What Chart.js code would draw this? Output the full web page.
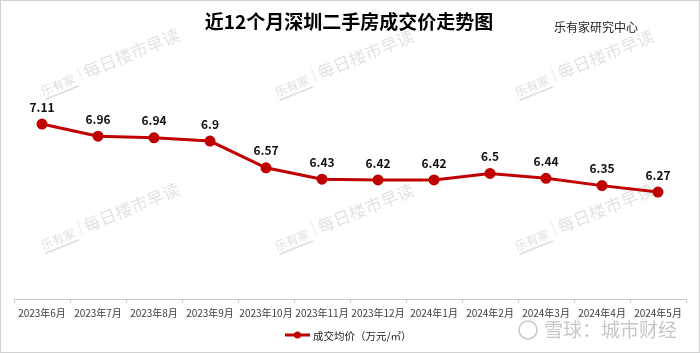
<!DOCTYPE html>
<html><head><meta charset="utf-8">
<script src="https://cdn.jsdelivr.net/npm/chart.js@4"></script>
<style>
html,body{margin:0;padding:0;background:#fff;}
#wrap{width:700px;height:353px;position:relative;}
canvas{display:block;}
</style></head>
<body><div id="wrap"><canvas id="c" width="700" height="353"></canvas></div>
<script>
const categories = ["2023年6月","2023年7月","2023年8月","2023年9月","2023年10月","2023年11月","2023年12月","2024年1月","2024年2月","2024年3月","2024年4月","2024年5月"];
const avgPrice = [7.11, 6.96, 6.94, 6.9, 6.57, 6.43, 6.42, 6.42, 6.5, 6.44, 6.35, 6.27];
const seriesName = "成交均价（万元/㎡）";
const titleText = "近12个月深圳二手房成交价走势图";
const sourceText = "乐有家研究中心";
const lineColor = "#C00000";
const FONT = "'Microsoft YaHei','Noto Sans CJK SC','DejaVu Sans',sans-serif";

const decor = {
  id: 'decor',
  beforeDraw(chart) {
    const ctx = chart.ctx;
    ctx.save();
    ctx.fillStyle = '#fff';
    ctx.fillRect(0,0,chart.width,chart.height);
    // watermarks
    const spots = [[43,96],[277,97],[517,97],[43,250],[277,251],[517,251]];
    for (const [x,y] of spots) {
      ctx.save();
      ctx.translate(x,y);
      ctx.rotate(-22*Math.PI/180);
      ctx.fillStyle = '#e0e0e0';
      ctx.font = "12px " + FONT;
      ctx.textBaseline = 'alphabetic';
      ctx.fillText("乐有家", 0, 0);
      ctx.fillRect(1, 3, 36, 2);
      ctx.fillStyle = '#e8e8e8';
      ctx.fillRect(42, -14, 1, 14);
      ctx.fillStyle = '#e3e3e3';
      ctx.font = "17px " + FONT;
      ctx.fillText("每日楼市早读", 47, 0);
      ctx.restore();
    }
    ctx.restore();
  },
  afterDraw(chart) {
    const ctx = chart.ctx;
    ctx.save();
    // border
    ctx.strokeStyle = '#d0d0d0';
    ctx.lineWidth = 1;
    ctx.strokeRect(0.5,0.5,chart.width-1,chart.height-1);
    // title
    ctx.fillStyle = '#000';
    ctx.textAlign = 'center';
    ctx.textBaseline = 'middle';
    ctx.font = "bold 19px " + FONT;
    ctx.fillText(titleText, 349, 22);
    ctx.font = "12px " + FONT;
    ctx.fillStyle = '#222';
    ctx.fillText(sourceText, 596, 27);
    // data labels
    const meta = chart.getDatasetMeta(0);
    ctx.font = "bold 12px " + FONT;
    ctx.fillStyle = '#111';
    meta.data.forEach((pt,i) => {
      ctx.fillText(String(avgPrice[i]), pt.x, pt.y - 17);
    });
    // legend
    const lx = 285, ly = 335;
    ctx.strokeStyle = lineColor; ctx.lineWidth = 3;
    ctx.beginPath(); ctx.moveTo(lx, ly); ctx.lineTo(lx+25, ly); ctx.stroke();
    ctx.fillStyle = lineColor;
    ctx.beginPath(); ctx.arc(lx+12.5, ly, 3.5, 0, Math.PI*2); ctx.fill();
    ctx.fillStyle = '#222';
    ctx.textAlign = 'left';
    ctx.font = "10.5px " + FONT;
    ctx.fillText(seriesName, lx+28, ly+1);
    // xueqiu watermark
    ctx.strokeStyle = 'rgba(160,160,160,0.6)';
    ctx.lineWidth = 1.5;
    ctx.beginPath(); ctx.arc(528, 330, 9, 0, Math.PI*2); ctx.stroke();
    ctx.fillStyle = 'rgba(160,160,160,0.6)';
    ctx.font = "19px " + FONT;
    ctx.fillText("雪球：城市财经", 544, 330);
    ctx.restore();
  }
};

new Chart(document.getElementById('c'), {
  type: 'line',
  data: {
    labels: categories,
    datasets: [{
      label: seriesName,
      data: avgPrice,
      borderColor: lineColor,
      backgroundColor: lineColor,
      borderWidth: 3,
      pointRadius: 4,
      pointBackgroundColor: lineColor,
      pointBorderColor: lineColor,
      tension: 0
    }]
  },
  options: {
    responsive: false,
    animation: false,
    devicePixelRatio: 1,
    layout: { padding: { left: 14, right: 14, top: 52, bottom: 30 } },
    plugins: { legend: { display: false }, title: { display: false }, tooltip: { enabled: false } },
    scales: {
      x: {
        offset: true,
        grid: { offset: true, drawOnChartArea: false, drawTicks: true, tickLength: 4, color: '#c8c8c8' },
        border: { color: '#c8c8c8', width: 1 },
        ticks: { color: '#404040', font: { size: 10, family: FONT }, maxRotation: 0, autoSkip: false, padding: 4 }
      },
      y: { display: false, min: 4.95, max: 8 }
    }
  },
  plugins: [decor]
});
</script></body></html>
